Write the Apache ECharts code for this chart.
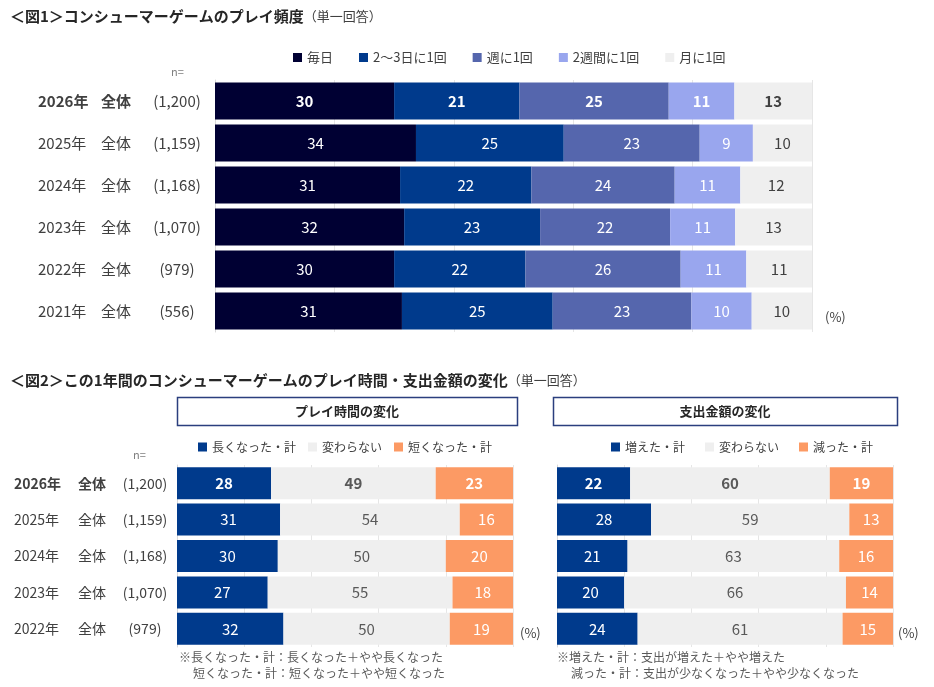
<!DOCTYPE html>
<html>
<head>
<meta charset="utf-8">
<title>コンシューマーゲームのプレイ頻度</title>
<script src="https://cdn.jsdelivr.net/npm/echarts@6/dist/echarts.min.js"></script>
<style>
html, body { margin: 0; padding: 0; background: #fff; }
#main { width: 934px; height: 687px; }
</style>
</head>
<body>
<div id="main"></div>
<script>
var FONT = '"Noto Sans CJK JP", "Noto Sans", sans-serif';

// 図1 プレイ頻度
var years1 = ['2026年', '2025年', '2024年', '2023年', '2022年', '2021年'];
var n1 = ['(1,200)', '(1,159)', '(1,168)', '(1,070)', '(979)', '(556)'];
var freqNames = ['毎日', '2〜3日に1回', '週に1回', '2週間に1回', '月に1回'];
var daily = [30, 34, 31, 32, 30, 31];
var twoThree = [21, 25, 22, 23, 22, 25];
var weekly = [25, 23, 24, 22, 26, 23];
var biweekly = [11, 9, 11, 11, 11, 10];
var monthly = [13, 10, 12, 13, 11, 10];

// 図2 プレイ時間・支出金額の変化
var years2 = ['2026年', '2025年', '2024年', '2023年', '2022年'];
var n2 = ['(1,200)', '(1,159)', '(1,168)', '(1,070)', '(979)'];
var playNames = ['長くなった・計', '変わらない', '短くなった・計'];
var playLonger = [28, 31, 30, 27, 32];
var playSame = [49, 54, 50, 55, 50];
var playShorter = [23, 16, 20, 18, 19];
var spendNames = ['増えた・計', '変わらない', '減った・計'];
var spendMore = [22, 28, 21, 20, 24];
var spendSame = [60, 59, 63, 66, 61];
var spendLess = [19, 13, 16, 14, 15];

var freqColors = ['#000033', '#003a8c', '#5566ad', '#99a6ee', '#efefef'];
var freqLabelColors = ['#fff', '#fff', '#fff', '#fff', '#404040'];
var chgColors = ['#003a8c', '#efefef', '#fc9a64'];
var chgLabelColors = ['#fff', '#595959', '#fff'];

// rows are scaled to their own total so every bar ends at the same place
function stackSeries(groups, names, colors, labelColors, axis, stack, barW) {
  var totals = groups[0].map(function (_, i) {
    return groups.reduce(function (s, g) { return s + g[i]; }, 0);
  });
  return groups.map(function (g, k) {
    return {
      name: names[k],
      type: 'bar',
      stack: stack,
      xAxisIndex: axis,
      yAxisIndex: axis,
      barWidth: barW,
      itemStyle: { color: colors[k] },
      emphasis: { disabled: true },
      label: {
        show: true,
        color: labelColors[k],
        fontSize: 15,
        fontFamily: FONT,
        formatter: function (p) { return p.data.raw; }
      },
      data: g.map(function (v, i) {
        var d = { value: v / totals[i] * 100, raw: v };
        if (i === 0) d.label = { fontWeight: 'bold' };
        return d;
      })
    };
  });
}

function catRich(wa, wb, wc, size) {
  var base = { fontSize: size, color: '#404040', fontFamily: FONT };
  function st(w, align, bold) {
    return Object.assign({}, base, { width: w, align: align, fontWeight: bold ? 'bold' : 'normal' });
  }
  return {
    a: st(wa, 'left'), b: st(wb, 'left'), c: st(wc, 'center'),
    a0: st(wa, 'left', true), b0: st(wb, 'left', true), c0: st(wc, 'center')
  };
}

function yAxisFor(idx, cats, ns, rich, margin, showLabel) {
  return {
    type: 'category',
    gridIndex: idx,
    inverse: true,
    data: cats,
    axisTick: { show: false },
    axisLine: { show: true, lineStyle: { color: '#d9d9d9' } },
    axisLabel: {
      show: showLabel,
      margin: margin,
      rich: rich,
      formatter: function (v, i) {
        var s = i === 0 ? '0' : '';
        return '{a' + s + '|' + v + '}{b' + s + '|全体}{c' + s + '|' + ns[i] + '}';
      }
    }
  };
}

function xAxisFor(idx) {
  return {
    type: 'value',
    gridIndex: idx,
    min: 0,
    max: 100,
    interval: 20,
    axisLabel: { show: false },
    axisLine: { show: false },
    axisTick: { show: false },
    splitLine: { show: true, lineStyle: { color: '#e6e6e6', width: 1 } }
  };
}

var legendText = { fontSize: 13, color: '#404040', fontFamily: FONT };
var legendText2 = { fontSize: 12, color: '#404040', fontFamily: FONT };

var option = {
  animation: false,
  backgroundColor: '#fff',
  textStyle: { fontFamily: FONT },
  title: [
    {
      text: '＜図1＞コンシューマーゲームのプレイ頻度{s|（単一回答）}',
      left: 5, top: 4,
      textStyle: { fontSize: 15, fontWeight: 'bold', color: '#262626', fontFamily: FONT,
        rich: { s: { fontSize: 13, fontWeight: 'normal', color: '#404040', fontFamily: FONT } } }
    },
    {
      text: '＜図2＞この1年間のコンシューマーゲームのプレイ時間・支出金額の変化{s|（単一回答）}',
      left: 5, top: 368,
      textStyle: { fontSize: 15, fontWeight: 'bold', color: '#262626', fontFamily: FONT,
        rich: { s: { fontSize: 13, fontWeight: 'normal', color: '#404040', fontFamily: FONT } } }
    }
  ],
  legend: [
    { data: freqNames, left: 288, top: 46, icon: 'rect', itemWidth: 9, itemHeight: 9,
      itemGap: 26, textStyle: legendText, selectedMode: false },
    { data: playNames, left: 193, top: 436, icon: 'rect', itemWidth: 9, itemHeight: 9,
      itemGap: 12, textStyle: legendText2, selectedMode: false },
    { data: spendNames, left: 606, top: 436, icon: 'rect', itemWidth: 9, itemHeight: 9,
      itemGap: 20, textStyle: legendText2, selectedMode: false }
  ],
  grid: [
    { left: 215, right: 122, top: 80, height: 252 },
    { left: 177, right: 421, top: 465, height: 182 },
    { left: 557, right: 41, top: 465, height: 182 }
  ],
  xAxis: [xAxisFor(0), xAxisFor(1), xAxisFor(2)],
  yAxis: [
    yAxisFor(0, years1, n1, catRich(63, 50, 52, 15), 12, true),
    yAxisFor(1, years2, n2, catRich(64, 41, 52, 14), 6, true),
    yAxisFor(2, years2, n2, {}, 0, false)
  ],
  graphic: [
    { type: 'text', left: 171, top: 66, style: { text: 'n=', fontSize: 11, fill: '#808080', fontFamily: FONT } },
    { type: 'text', left: 133, top: 449, style: { text: 'n=', fontSize: 11, fill: '#808080', fontFamily: FONT } },
    { type: 'text', left: 825, top: 311, style: { text: '(%)', fontSize: 13, fill: '#404040', fontFamily: FONT } },
    { type: 'text', left: 520, top: 627, style: { text: '(%)', fontSize: 13, fill: '#404040', fontFamily: FONT } },
    { type: 'text', left: 898, top: 627, style: { text: '(%)', fontSize: 13, fill: '#404040', fontFamily: FONT } },
    { type: 'rect', shape: { x: 177.5, y: 397.5, width: 340, height: 28 },
      style: { fill: '#fff', stroke: '#2b3f7e', lineWidth: 1.5 } },
    { type: 'text', x: 347, y: 411, style: { text: 'プレイ時間の変化', fontSize: 13, fontWeight: 'bold',
      fill: '#262626', align: 'center', verticalAlign: 'middle', fontFamily: FONT } },
    { type: 'rect', shape: { x: 553.5, y: 397.5, width: 344, height: 28 },
      style: { fill: '#fff', stroke: '#2b3f7e', lineWidth: 1.5 } },
    { type: 'text', x: 725, y: 411, style: { text: '支出金額の変化', fontSize: 13, fontWeight: 'bold',
      fill: '#262626', align: 'center', verticalAlign: 'middle', fontFamily: FONT } },
    { type: 'text', left: 179, top: 651, style: { text: '※長くなった・計：長くなった＋やや長くなった',
      fontSize: 12, fill: '#595959', fontFamily: FONT } },
    { type: 'text', left: 193, top: 667, style: { text: '短くなった・計：短くなった＋やや短くなった',
      fontSize: 12, fill: '#595959', fontFamily: FONT } },
    { type: 'text', left: 557, top: 651, style: { text: '※増えた・計：支出が増えた＋やや増えた',
      fontSize: 12, fill: '#595959', fontFamily: FONT } },
    { type: 'text', left: 571, top: 667, style: { text: '減った・計：支出が少なくなった＋やや少なくなった',
      fontSize: 12, fill: '#595959', fontFamily: FONT } }
  ],
  series: [].concat(
    stackSeries([daily, twoThree, weekly, biweekly, monthly], freqNames, freqColors, freqLabelColors, 0, 'freq', 37),
    stackSeries([playLonger, playSame, playShorter], playNames, chgColors, chgLabelColors, 1, 'play', 32),
    stackSeries([spendMore, spendSame, spendLess], spendNames, chgColors, chgLabelColors, 2, 'spend', 32)
  )
};

var myChart = echarts.init(document.getElementById('main'));
myChart.setOption(option);
</script>
</body>
</html>
